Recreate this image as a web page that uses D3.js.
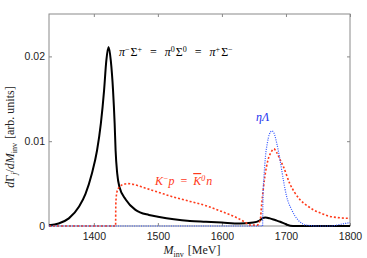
<!DOCTYPE html>
<html>
<head>
<meta charset="utf-8">
<script src="https://cdn.jsdelivr.net/npm/d3@7"></script>
<style>
  body { margin: 0; background: #fff; }
  svg { display: block; }
  .tick text { font-family: "Liberation Sans", Arial, sans-serif; font-size: 10.5px; fill: #222; }
  .serif { font-family: "Liberation Serif", "DejaVu Serif", serif; }
</style>
</head>
<body>
<svg id="chart" width="367" height="258"></svg>
<script>
// pi Sigma (all three charge channels equal)
var piSigmaM = [1330, 1345, 1361, 1377, 1387, 1397, 1405, 1411, 1416, 1419.5, 1423, 1426.5, 1430, 1432.5, 1434, 1436.5, 1440, 1450, 1465, 1486, 1500, 1525, 1550, 1575, 1600, 1628, 1649, 1658, 1663, 1668, 1675, 1683, 1691, 1700, 1711, 1730, 1800];
var piSigmaV = [0.0001, 0.0003, 0.0009, 0.0023, 0.0038, 0.0062, 0.0089, 0.0121, 0.0160, 0.0195, 0.0211, 0.0195, 0.0160, 0.0121, 0.0089, 0.0062, 0.0046, 0.0031, 0.0019, 0.0013, 0.0011, 0.0008, 0.0006, 0.0005, 0.0004, 0.0003, 0.0004, 0.0006, 0.0009, 0.0010, 0.0009, 0.0007, 0.0005, 0.0002, 0.0000, 0.0000, 0.0000];

// K- p = Kbar0 n
var kpM = [1330, 1434, 1434.3, 1436, 1440, 1446, 1453, 1462, 1475, 1500, 1525, 1550, 1575, 1600, 1620, 1635, 1645, 1655, 1660, 1662, 1664.5, 1667, 1672, 1677.5, 1681, 1686, 1691, 1696, 1706, 1714, 1722, 1733, 1743, 1755, 1765, 1780, 1800];
var kpV = [0, 0, 0.0025, 0.0040, 0.0046, 0.0049, 0.0050, 0.0049, 0.0046, 0.0040, 0.0034, 0.0029, 0.0024, 0.0017, 0.0011, 0.0005, 0.0001, 0.0001, 0.0008, 0.0025, 0.0043, 0.0058, 0.0078, 0.0088, 0.0091, 0.0086, 0.0078, 0.0070, 0.0050, 0.0039, 0.0031, 0.0024, 0.0019, 0.0015, 0.0012, 0.0010, 0.0009];

// eta Lambda
var etaLM = [1330, 1663.5, 1664, 1666, 1668, 1671, 1674, 1678, 1681, 1685.5, 1690.7, 1696, 1701, 1709, 1719, 1732, 1750, 1770, 1785, 1800];
var etaLV = [0, 0, 0.0030, 0.0062, 0.0082, 0.0098, 0.0108, 0.0112, 0.0110, 0.0098, 0.0078, 0.0054, 0.0035, 0.0019, 0.0007, 0.0001, 0.0000, 0.0000, 0.0002, 0.0004];

var xTicks = [1400, 1500, 1600, 1700, 1800];
var yTicks = [0, 0.01, 0.02];

var svg = d3.select('#chart');
var PAD_L = 49, PAD_R = 350, PAD_T = 14, PAD_B = 226;

var x = d3.scaleLinear().domain([1330, 1800]).range([PAD_L, PAD_R]);
var y = d3.scaleLinear().domain([0, 0.025]).range([PAD_B, PAD_T]);

// axes, MATLAB style: ticks inside, box round the plot
svg.append('g')
  .attr('transform', 'translate(0,' + PAD_B + ')')
  .call(d3.axisBottom(x).tickValues(xTicks).tickSize(-3).tickPadding(7).tickFormat(d3.format('d')))
  .call(function(g){ g.select('.domain').remove(); });

svg.append('g')
  .attr('transform', 'translate(0,' + PAD_T + ')')
  .call(d3.axisTop(x).tickValues(xTicks).tickSize(-3).tickFormat(''))
  .call(function(g){ g.select('.domain').remove(); });

svg.append('g')
  .attr('transform', 'translate(' + PAD_L + ',0)')
  .call(d3.axisLeft(y).tickValues(yTicks).tickSize(-3).tickPadding(4).tickFormat(function(d){ return d === 0 ? '0' : d3.format('.2f')(d); }))
  .call(function(g){ g.select('.domain').remove(); });

svg.append('g')
  .attr('transform', 'translate(' + PAD_R + ',0)')
  .call(d3.axisRight(y).tickValues(yTicks).tickSize(-3).tickFormat(''))
  .call(function(g){ g.select('.domain').remove(); });

svg.selectAll('.tick line').attr('stroke', '#888');

svg.append('rect')
  .attr('x', PAD_L).attr('y', PAD_T)
  .attr('width', PAD_R - PAD_L).attr('height', PAD_B - PAD_T)
  .attr('fill', 'none')
  .attr('stroke', '#8a8a8a')
  .attr('stroke-width', 1);

svg.append('clipPath').attr('id', 'clip')
  .append('rect').attr('x', PAD_L).attr('y', PAD_T - 2).attr('width', PAD_R - PAD_L).attr('height', PAD_B - PAD_T + 3);

function drawCurve(ms, vs, color, width, dash) {
  var pts = ms.map(function(m, i){ return [m, vs[i]]; });
  var line = d3.line()
    .x(function(d){ return x(d[0]); })
    .y(function(d){ return y(d[1]); })
    .curve(d3.curveMonotoneX);
  svg.append('path')
    .datum(pts)
    .attr('clip-path', 'url(#clip)')
    .attr('d', line)
    .attr('fill', 'none')
    .attr('stroke', color)
    .attr('stroke-width', width)
    .attr('stroke-dasharray', dash);
}

drawCurve(piSigmaM, piSigmaV, '#000', 2, null);
drawCurve(kpM, kpV, '#ff3a1a', 1.6, '2,2');
drawCurve(etaLM, etaLV, '#3355ff', 1.2, '1,1.3');

// labels
var t1 = svg.append('text').attr('class', 'serif')
  .attr('x', 119).attr('y', 56).attr('font-size', 12).attr('fill', '#000');
function sup(t, s) { t.append('tspan').attr('font-size', 8).attr('dy', -4.5).text(s); }
function base(t, s, italic) {
  var ts = t.append('tspan').attr('dy', 4.5).text(s);
  if (italic) ts.attr('font-style', 'italic');
  return ts;
}
t1.append('tspan').attr('font-style', 'italic').text('π');
sup(t1, '−');
base(t1, 'Σ').attr('dx', 1);
sup(t1, '+');
base(t1, '=').attr('dx', 8);
t1.append('tspan').attr('dx', 8).attr('font-style', 'italic').text('π');
sup(t1, '0');
base(t1, 'Σ').attr('dx', 1);
sup(t1, '0');
base(t1, '=').attr('dx', 8);
t1.append('tspan').attr('dx', 8).attr('font-style', 'italic').text('π');
sup(t1, '+');
base(t1, 'Σ').attr('dx', 1);
sup(t1, '−');

var t2 = svg.append('text').attr('class', 'serif')
  .attr('x', 155).attr('y', 185).attr('font-size', 12).attr('fill', '#ff3a1a')
  .attr('font-style', 'italic');
t2.append('tspan').text('K');
sup(t2, '−');
base(t2, 'p');
base(t2, '=').attr('dy', 0).attr('dx', 6).attr('font-style', 'normal');
t2.append('tspan').attr('dx', 6).attr('text-decoration', 'overline').text('K');
sup(t2, '0');
base(t2, 'n').attr('dx', 1);

svg.append('text').attr('class', 'serif')
  .attr('x', 256).attr('y', 121).attr('font-size', 12).attr('fill', '#2233ee')
  .attr('font-style', 'italic').text('ηΛ');

// x axis label
var xl = svg.append('text').attr('class', 'serif')
  .attr('x', 192).attr('y', 254).attr('text-anchor', 'middle')
  .attr('font-size', 12).attr('fill', '#222');
xl.append('tspan').attr('font-style', 'italic').text('M');
xl.append('tspan').attr('font-size', 8).attr('dy', 2.5).text('inv');
xl.append('tspan').attr('dy', -2.5).attr('dx', 4).text('[MeV]');

// y axis label
var yl = svg.append('text').attr('class', 'serif')
  .attr('transform', 'translate(14,137) rotate(-90)')
  .attr('text-anchor', 'middle')
  .attr('font-size', 12).attr('fill', '#222');
yl.append('tspan').attr('font-style', 'italic').text('d');
yl.append('tspan').text('Γ');
yl.append('tspan').attr('font-size', 8).attr('dy', 2.5).attr('font-style', 'italic').text('j');
yl.append('tspan').attr('dy', -2.5).text('/');
yl.append('tspan').attr('font-style', 'italic').text('dM');
yl.append('tspan').attr('font-size', 8).attr('dy', 2.5).text('inv');
yl.append('tspan').attr('dy', -2.5).attr('dx', 4).text('[arb. units]');
</script>
</body>
</html>
